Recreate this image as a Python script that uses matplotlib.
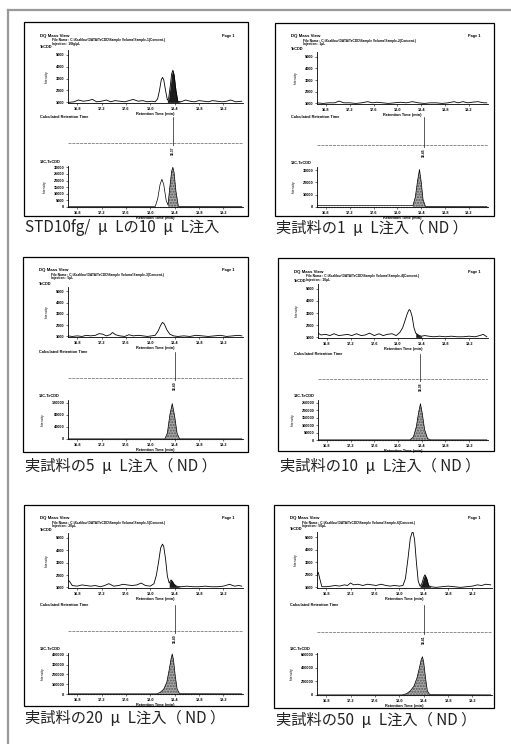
import matplotlib
matplotlib.use('Agg')
import matplotlib.pyplot as plt
import numpy as np
from matplotlib.lines import Line2D
from matplotlib.patches import Rectangle

# ---------------- data ----------------
EN = "\u2002"
captions = ["STD10fg/" + EN + "μ" + EN + "Lの10" + EN + "μ" + EN + "L注入",
            "実試料の1" + EN + "μ" + EN + "L注入（ ND ）",
            "実試料の5" + EN + "μ" + EN + "L注入（ ND ）",
            "実試料の10" + EN + "μ" + EN + "L注入（ ND ）",
            "実試料の20" + EN + "μ" + EN + "L注入（ ND ）",
            "実試料の50" + EN + "μ" + EN + "L注入（ ND ）"]
injections = ["10fg/μL", "1μL", "5μL", "10μL", "20μL", "50μL"]

x_ticks = [16.8, 17.2, 17.6, 18.0, 18.4, 18.8, 19.2]
x_range = [16.65, 19.52]
top_ticks = [1000, 2000, 3000, 4000, 5000]
top_range = [950, 5400]

# TeCDD traces (time [min], intensity)
t1 = [16.65,16.75,16.82,16.9,16.98,17.05,17.12,17.2,17.28,17.35,17.42,17.5,17.58,17.65,17.72,17.8,17.88,17.95,18.02,18.08,18.12,18.15,18.18,18.2,18.22,18.25,18.28,18.3,18.33,18.35,18.37,18.39,18.42,18.45,18.5,18.58,18.65,18.72,18.8,18.88,18.95,19.02,19.1,19.18,19.25,19.32,19.4,19.5]
y1 = [1000,1050,1200,1100,1150,1250,1050,1100,1200,1050,1150,1100,1050,1150,1250,1100,1150,1050,1100,1050,1300,2000,2900,3100,2900,2000,1200,1300,2500,3400,3700,3300,2000,1100,1050,1200,1100,1050,1150,1100,1050,1150,1100,1050,1100,1200,1050,1100]
t2 = [16.65,16.75,16.85,16.95,17.02,17.1,17.2,17.3,17.4,17.5,17.58,17.65,17.75,17.85,17.95,18.05,18.15,18.25,18.35,18.45,18.55,18.65,18.75,18.85,18.95,19.02,19.1,19.18,19.25,19.35,19.45,19.5]
y2 = [1050,1000,1050,1050,1200,1050,1050,1000,1050,1150,1050,1100,1050,1000,1050,1100,1050,1150,1050,1000,1050,1050,1000,1050,1150,1050,1150,1050,1100,1150,1050,1050]
t3 = [16.65,16.72,16.8,16.88,16.95,17.02,17.1,17.16,17.22,17.28,17.34,17.38,17.43,17.5,17.58,17.65,17.72,17.8,17.88,17.95,18.02,18.08,18.13,18.17,18.2,18.23,18.27,18.32,18.38,18.45,18.55,18.65,18.75,18.85,18.95,19.05,19.15,19.25,19.35,19.45,19.5]
y3 = [1050,1000,1050,1000,1100,1050,1100,1250,1200,1050,1150,1350,1150,1050,1000,1150,1050,1100,1050,1000,1050,1100,1500,2000,2250,2100,1600,1200,1050,1000,1050,1000,1100,1050,1000,1050,1100,1000,1050,1100,1050]
t4 = [16.65,16.7,16.78,16.85,16.92,17.0,17.08,17.15,17.22,17.3,17.38,17.45,17.52,17.6,17.68,17.75,17.82,17.9,17.97,18.03,18.08,18.12,18.16,18.19,18.21,18.24,18.27,18.3,18.33,18.36,18.4,18.45,18.52,18.6,18.7,18.8,18.9,19.0,19.1,19.2,19.3,19.38,19.44,19.5]
y4 = [1350,1200,1250,1150,1300,1150,1200,1250,1150,1300,1150,1200,1350,1150,1300,1150,1250,1300,1150,1400,1800,2400,3000,3300,3200,2700,1800,1350,1250,1150,1100,1150,1100,1050,1100,1050,1100,1050,1050,1100,1050,1150,1250,1050]
t5 = [16.65,16.68,16.72,16.8,16.88,16.95,17.02,17.1,17.18,17.25,17.32,17.4,17.48,17.55,17.62,17.7,17.78,17.85,17.92,18.0,18.06,18.1,18.14,18.17,18.2,18.22,18.25,18.28,18.31,18.34,18.36,18.39,18.43,18.5,18.6,18.7,18.8,18.9,19.0,19.1,19.2,19.3,19.38,19.45,19.5]
y5 = [1600,1450,1150,1100,1200,1150,1100,1150,1050,1150,1300,1100,1150,1250,1200,1150,1200,1350,1150,1100,1300,2000,3200,4200,4500,4300,3300,1900,1350,1600,1500,1250,1100,1050,1100,1050,1050,1100,1050,1050,1100,1250,1100,1150,1100]
t6 = [16.65,16.67,16.7,16.73,16.8,16.88,16.95,17.02,17.1,17.15,17.2,17.25,17.32,17.4,17.48,17.55,17.62,17.7,17.78,17.85,17.92,18.0,18.06,18.1,18.14,18.18,18.22,18.25,18.28,18.31,18.34,18.37,18.4,18.42,18.45,18.48,18.52,18.6,18.7,18.8,18.9,19.0,19.1,19.2,19.28,19.35,19.42,19.5]
y6 = [2000,2200,1600,1050,1050,1100,1150,1100,1200,1150,1350,1200,1250,1150,1250,1200,1150,1250,1150,1100,1150,1100,1150,1700,3200,4900,5500,4800,3000,1500,1100,1300,1800,2000,1700,1150,1050,1000,1050,1100,1050,1000,1050,1100,1200,1150,1250,1200]
top_fill = [(18.28, 18.46), None, None, (18.30, 18.40), (18.30, 18.43), (18.34, 18.50)]

# 13C-TeCDD traces
b1_t = [16.65, 18.08, 18.12, 18.16, 18.19, 18.22, 18.26, 18.29, 18.32, 18.35, 18.37, 18.39, 18.42, 18.46, 19.5]
b1_y = [300, 300, 6000, 17000, 21000, 17000, 5000, 1500, 15000, 27000, 30000, 26000, 12000, 500, 300]
b2_t = [16.65, 18.26, 18.30, 18.34, 18.37, 18.40, 18.43, 18.47, 19.5]
b2_y = [1200, 1200, 8000, 22000, 30500, 20000, 6000, 500, 300]
b3_t = [16.65, 18.24, 18.28, 18.32, 18.36, 18.40, 18.44, 18.48, 19.5]
b3_y = [500, 500, 20000, 80000, 118000, 75000, 18000, 500, 500]
b4_t = [16.65, 18.20, 18.26, 18.31, 18.35, 18.38, 18.41, 18.45, 18.50, 18.55, 19.5]
b4_y = [1000, 1000, 20000, 90000, 190000, 245000, 180000, 70000, 10000, 1000, 1000]
b5_t = [16.65, 18.10, 18.16, 18.22, 18.27, 18.31, 18.34, 18.36, 18.38, 18.41, 18.44, 18.48, 19.5]
b5_y = [2000, 2000, 15000, 50000, 120000, 250000, 360000, 410000, 350000, 180000, 50000, 3000, 2000]
b6_t = [16.65, 18.05, 18.12, 18.18, 18.24, 18.29, 18.33, 18.36, 18.38, 18.40, 18.43, 18.46, 18.50, 19.5]
b6_y = [2000, 2000, 20000, 60000, 130000, 250000, 400000, 520000, 560000, 480000, 250000, 60000, 5000, 2000]
bot_fill = [(18.29, 18.47), (18.26, 18.48), (18.24, 18.48), (18.20, 18.55), (18.10, 18.48), (18.05, 18.50)]
bot_ticks = [[0, 5000, 10000, 15000, 20000, 25000, 30000],
             [0, 10000, 20000, 30000],
             [0, 40000, 80000, 120000],
             [0, 50000, 100000, 150000, 200000, 250000],
             [0, 100000, 200000, 300000, 400000],
             [0, 200000, 400000, 600000]]
bot_top = [31000, 32500, 130000, 270000, 420000, 615000]

calc_rt = [18.37, 18.45, 18.40, 18.38, 18.40, 18.41]

top_t = [t1, t2, t3, t4, t5, t6]
top_y = [y1, y2, y3, y4, y5, y6]
bot_t = [b1_t, b2_t, b3_t, b4_t, b5_t, b6_t]
bot_y = [b1_y, b2_y, b3_y, b4_y, b5_y, b6_y]

# ---------------- layout (pixels) ----------------
W, H = 511, 744
layout = [
    dict(box=(24, 22, 248, 216), top=(68, 50, 243, 103), mid=(68, 115, 243, 162), hl=143, bot=(68, 166, 243, 207), cap=(25, 228)),
    dict(box=(275, 23, 494, 216), top=(317, 52, 488, 104), mid=(317, 115, 488, 162), hl=145, bot=(317, 167, 488, 207), cap=(276, 228)),
    dict(box=(23, 257, 248, 452), top=(68, 287, 243, 337), mid=(68, 350, 243, 394), hl=378, bot=(68, 400, 243, 439), cap=(25, 467)),
    dict(box=(278, 258, 494, 451), top=(318, 284, 488, 338), mid=(318, 352, 488, 394), hl=379, bot=(318, 400, 488, 440), cap=(280, 467)),
    dict(box=(24, 505, 248, 706), top=(68, 533, 243, 588), mid=(68, 603, 243, 647), hl=631, bot=(68, 653, 243, 694), cap=(25, 718)),
    dict(box=(274, 505, 494, 708), top=(317, 532, 492, 588), mid=(317, 603, 492, 648), hl=632, bot=(317, 653, 492, 695), cap=(276, 720)),
]

fig = plt.figure(figsize=(W / 100, H / 100), dpi=100)
fig.patch.set_facecolor('white')
CJK = ['Noto Sans CJK JP', 'DejaVu Sans']
SMALL = ['Liberation Sans', 'DejaVu Sans']


def add_ax(r):
    x0, y0, x1, y1 = r
    return fig.add_axes([x0 / W, 1 - y1 / H, (x1 - x0) / W, (y1 - y0) / H])


def ftext(x, y, s, **kw):
    fig.text(x / W, 1 - y / H, s, **kw)


def style_chrom(ax, ticks, ylim):
    ax.set_xlim(*x_range)
    ax.set_ylim(*ylim)
    for s in ('top', 'right'):
        ax.spines[s].set_visible(False)
    for s in ('left', 'bottom'):
        ax.spines[s].set_linewidth(0.6)
    ax.set_xticks(x_ticks)
    ax.set_xticklabels([f"{v:.1f}" for v in x_ticks])
    ax.set_yticks(ticks)
    ax.set_yticklabels([str(v) for v in ticks])
    ax.tick_params(length=1.5, width=0.4, pad=1.2, labelsize=2.8)
    for lab in ax.get_xticklabels() + ax.get_yticklabels():
        lab.set_fontweight('bold')
        lab.set_family(SMALL)
    ax.set_xlabel("Retention Time (min)", fontsize=2.8, fontweight='bold', labelpad=0.6, family=SMALL)
    ax.set_ylabel("Intensity", fontsize=2.4, labelpad=5, family=SMALL)
    ax.patch.set_alpha(0)


# outer frame
fig.add_artist(Line2D([8 / W, 1.0], [1 - 10 / H, 1 - 10 / H], color='#9a9a9a', lw=1.6))
fig.add_artist(Line2D([8 / W, 8 / W], [1 - 10 / H, 0.0], color='#9a9a9a', lw=1.6))

for i, L in enumerate(layout):
    bx0, by0, bx1, by1 = L['box']
    fig.add_artist(Rectangle((bx0 / W, 1 - by1 / H), (bx1 - bx0) / W, (by1 - by0) / H,
                             transform=fig.transFigure, fill=False, ec='black', lw=0.9))
    lx = bx0 + 16
    # header
    ftext(lx, by0 + 13.5, "DQ Mass View", fontsize=3.2, fontweight='bold', family=SMALL, va='center')
    ftext(lx + 12, by0 + 18, "File Name : C:\\Xcalibur\\DATA\\TeCDD\\Sample Volume\\Sample-%d(Concent.)" % (i + 1),
          fontsize=2.3, fontweight='bold', family=SMALL, va='center')
    ftext(lx + 12, by0 + 21.5, "Injection : " + injections[i], fontsize=2.3, fontweight='bold', family=SMALL, va='center')
    ftext(bx1 - 14, by0 + 13.5, "Page 1", fontsize=2.8, fontweight='bold', family=SMALL, va='center', ha='right')
    ftext(lx, L['top'][1] - 1, "TeCDD", fontsize=2.8, fontweight='bold', family=SMALL, va='bottom')
    ftext(lx, L['mid'][1] + 2, "Calculated Retention Time", fontsize=2.8, fontweight='bold', family=SMALL, va='center')
    ftext(lx, L['bot'][1] - 2, "13C-TeCDD", fontsize=2.8, fontweight='bold', family=SMALL, va='bottom')

    # top chromatogram
    ax = add_ax(L['top'])
    style_chrom(ax, top_ticks, top_range)
    t = np.array(top_t[i]); y = np.array(top_y[i])
    ax.plot(t, y, color='black', lw=0.6, clip_on=True)
    if top_fill[i] is not None:
        a, b = top_fill[i]
        m = (t >= a) & (t <= b)
        ax.fill_between(t, 1000, y, where=m, color='#1c1c1c', lw=0, interpolate=True)

    # calculated retention time
    am = add_ax(L['mid'])
    am.set_xlim(*x_range)
    am.set_ylim(L['mid'][3], L['mid'][1])
    am.axis('off')
    am.plot(x_range, [L['hl'], L['hl']], color='#8c8c8c', lw=0.7, ls=(0, (3, 1)))
    am.plot([calc_rt[i], calc_rt[i]], [L['mid'][1] + 2, L['hl'] + 12], color='black', lw=0.45)
    am.text(calc_rt[i], L['hl'] + 8, f"{calc_rt[i]:.2f}", rotation=90, fontsize=2.4,
            fontweight='bold', ha='center', va='center', family=SMALL,
            bbox=dict(boxstyle='square,pad=0.1', fc='white', ec='none'))

    # bottom chromatogram
    ab = add_ax(L['bot'])
    style_chrom(ab, bot_ticks[i], (0, bot_top[i]))
    tb = np.array(bot_t[i]); yb = np.array(bot_y[i])
    a, b = bot_fill[i]
    m = (tb >= a) & (tb <= b)
    ab.fill_between(tb, 0, yb, where=m, color='#a9a9a9', lw=0, interpolate=True, hatch='......', edgecolor='#555555')
    ab.plot(tb, yb, color='black', lw=0.5)
    ab.plot(x_range, [0, 0], color='#9a9a9a', lw=1.0, ls=(0, (1, 1)), clip_on=False)

    # caption
    ftext(L['cap'][0], L['cap'][1], captions[i], fontsize=11, family=CJK, va='center', color='#222222')

fig.savefig('out.png', dpi=100, facecolor='white')
